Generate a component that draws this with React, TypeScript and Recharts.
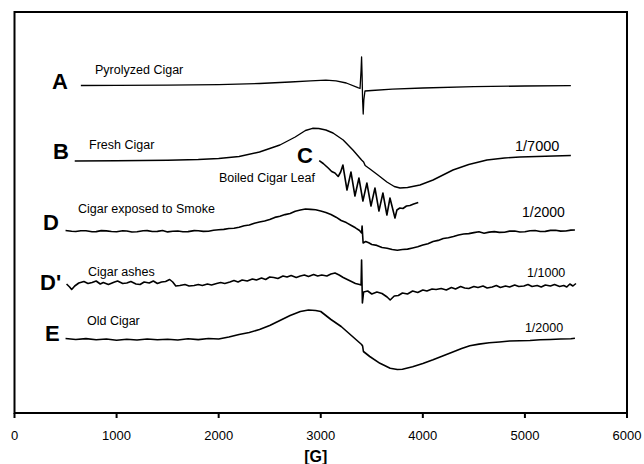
import React from "react";
import { LineChart, Line, XAxis, YAxis, ReferenceDot, ReferenceArea } from "recharts";

const FONT = "'Liberation Sans', Arial, Helvetica, sans-serif";

const xTicks = [0, 1000, 2000, 3000, 4000, 5000, 6000];

// Each trace: [field in G, vertical position of the (offset) signal]
const traceA: [number, number][] = [
  [650, 327.5], [1000, 327.6], [1500, 327.9], [2000, 328.4], [2400, 329.5], [2700, 331],
  [2900, 332.2], [3050, 332.8], [3150, 332.2], [3250, 330], [3364, 325.3], [3385, 324.5],
  [3395, 343], [3400, 356], [3405, 338], [3410, 313], [3416, 299], [3422, 313], [3433, 322],
  [3500, 322.5], [3700, 323.8], [4000, 325], [4500, 326.3], [5000, 327], [5450, 327.3],
];

const traceB: [number, number][] = [
  [590, 252], [1000, 252.2], [1500, 252.7], [1800, 253.5], [2000, 254.5], [2200, 256.5],
  [2400, 261], [2600, 268], [2750, 276], [2850, 282.5], [2920, 284.7], [2980, 284.5],
  [3050, 283], [3120, 280], [3220, 273], [3315, 263], [3400, 253], [3420, 251], [3435, 247.5],
  [3482, 244], [3560, 238], [3648, 231], [3720, 226.5], [3776, 225], [3850, 225.5],
  [3972, 228], [4100, 233], [4295, 243], [4450, 248.5], [4628, 253], [4800, 255],
  [4951, 256], [5200, 256.8], [5450, 257.5],
];

const traceC: [number, number][] = [
  [2985, 252.3], [3024, 249.5], [3073, 245], [3107, 241.5], [3139, 240], [3171, 236.5],
  [3195, 241], [3217, 248], [3257, 223], [3296, 241], [3335, 217], [3374, 235], [3413, 212],
  [3452, 230], [3492, 207], [3531, 225], [3570, 202], [3609, 220], [3648, 198], [3678, 215],
  [3727, 195], [3746, 203], [3775, 205], [3805, 204.5], [3840, 207], [3874, 207.5],
  [3910, 209], [3955, 210.5],
];

const traceD: [number, number][] = [
  [500, 182.5], [560, 181.8], [600, 181.5], [650, 182.3], [700, 182.2], [760, 181.2],
  [800, 181.4], [850, 182.4], [900, 182.1], [950, 181.5], [1000, 181.2], [1060, 182.2],
  [1100, 182.0], [1150, 181.0], [1200, 181.3], [1260, 182.3], [1300, 182.4], [1350, 181.5],
  [1400, 181.6], [1450, 182.5], [1500, 181.1], [1550, 181.7], [1600, 182.0], [1650, 181.2],
  [1700, 181.4], [1760, 182.4], [1800, 182.2], [1850, 181.6], [1900, 181.8], [1950, 182.8],
  [2000, 183.2], [2050, 183.6], [2100, 184.5], [2150, 184.8], [2200, 185.7], [2250, 187.2],
  [2300, 188.0], [2350, 189.8], [2400, 191.0], [2450, 192.0], [2500, 193.5], [2550, 195.6],
  [2600, 196.7], [2650, 198.4], [2700, 199.5], [2750, 201.8], [2800, 203.0], [2850, 204.0],
  [2900, 203.6], [2950, 203.2], [3000, 202.0], [3050, 200.6], [3100, 198.5], [3150, 195.8],
  [3200, 192.5], [3250, 190.4], [3300, 187.5], [3340, 185.2], [3380, 182.5], [3400, 180],
  [3405, 187], [3415, 170], [3440, 171.5], [3470, 170.2], [3500, 168.5], [3550, 167.6],
  [3600, 165.5], [3650, 164.8], [3700, 163.5], [3750, 162.8], [3800, 163.5], [3850, 163.9],
  [3900, 165.0], [3950, 166.2], [4000, 168.0], [4050, 169.3], [4100, 171.5], [4150, 172.6],
  [4200, 174.5], [4250, 175.2], [4300, 176.5], [4350, 178.0], [4400, 179.0], [4450, 179.4],
  [4500, 180.4], [4550, 181.2], [4600, 179.8], [4650, 180.9], [4700, 181.4], [4750, 180.6],
  [4800, 180.8], [4850, 181.9], [4900, 182.0], [4950, 181.0], [5000, 181.2], [5050, 182.2],
  [5100, 182.5], [5150, 181.5], [5200, 181.6], [5250, 182.6], [5300, 182.8], [5350, 181.9],
  [5400, 182.0], [5450, 182.9], [5490, 183.0],
];

const traceDPrime: [number, number][] = [
  [510, 129], [540, 126], [560, 123.5], [590, 127], [630, 130], [680, 131.5], [720, 129.5],
  [760, 130.5], [800, 132], [840, 129], [870, 130.5], [920, 128.5], [980, 131], [1010, 132],
  [1060, 129.5], [1100, 130], [1140, 131.5], [1190, 129], [1230, 128.5], [1270, 131],
  [1320, 130], [1360, 132], [1400, 129.5], [1440, 131], [1480, 131.5], [1520, 133.5],
  [1550, 131], [1580, 127], [1620, 127.5], [1670, 128.5], [1710, 127], [1760, 127.5],
  [1800, 128.5], [1840, 127.5], [1890, 129], [1930, 128], [1980, 129.5], [2020, 130.5],
  [2060, 129.5], [2110, 131], [2150, 132.5], [2190, 131], [2230, 133], [2280, 132],
  [2330, 134], [2370, 133], [2420, 135], [2460, 133.5], [2500, 136], [2540, 135.5],
  [2580, 134.5], [2630, 137], [2670, 136], [2710, 137.5], [2760, 135.5], [2800, 137],
  [2840, 138], [2880, 136.5], [2930, 138.5], [2970, 137], [3010, 138], [3060, 137],
  [3100, 139], [3140, 140], [3180, 138], [3220, 135.5], [3260, 133.5], [3300, 131.5],
  [3340, 129.5], [3380, 128.5], [3395, 128], [3400, 153], [3408, 110], [3420, 121],
  [3460, 122], [3500, 119], [3550, 121], [3600, 119.5], [3650, 116], [3680, 113],
  [3720, 117], [3760, 117.5], [3800, 120], [3850, 119], [3900, 122], [3950, 120.5],
  [4000, 123], [4040, 122], [4090, 124], [4130, 123.5], [4180, 124.5], [4230, 123],
  [4280, 125.5], [4320, 124], [4370, 126.5], [4410, 125], [4450, 124.5], [4500, 126.5],
  [4540, 125.5], [4590, 127], [4630, 125], [4680, 126], [4720, 127.5], [4760, 125.5],
  [4810, 127], [4850, 126], [4900, 128], [4940, 126.5], [4990, 127], [5030, 128.5],
  [5070, 126.5], [5120, 127.5], [5160, 126], [5200, 128], [5250, 127], [5290, 128.5],
  [5340, 126.5], [5380, 127.5], [5410, 126], [5440, 129], [5470, 127], [5500, 129.5],
];

const traceE: [number, number][] = [
  [500, 74.5], [600, 73.5], [700, 74.4], [800, 73.2], [900, 74.0], [1000, 72.8],
  [1100, 73.7], [1200, 73.0], [1300, 74.0], [1400, 73.2], [1500, 73.8], [1600, 73.0],
  [1700, 74.2], [1800, 73.4], [1900, 74.5], [2000, 74.0], [2100, 76.0], [2200, 78.5],
  [2300, 80.5], [2400, 83.5], [2500, 87.5], [2600, 92.5], [2700, 97.5], [2800, 101.5],
  [2880, 103.0], [2950, 102.5], [3000, 101.5], [3100, 93.5], [3200, 86.5], [3300, 77.5],
  [3400, 68.5], [3410, 67], [3418, 61.5], [3480, 56.5], [3580, 49.7], [3680, 44.7],
  [3750, 43.5], [3800, 43.8], [3900, 46.3], [4000, 49.5], [4100, 53.2], [4200, 57.3],
  [4300, 61.3], [4380, 64.6], [4460, 67.3], [4550, 68.9], [4650, 70.2], [4750, 71.0],
  [4850, 72.0], [4950, 72.2], [5050, 72.5], [5150, 73.2], [5250, 73.5], [5350, 74.0],
  [5450, 74.2], [5490, 74.7],
];

const traces = [
  { key: "A", pairs: traceA, width: 1.3 },
  { key: "B", pairs: traceB, width: 1.4 },
  { key: "C", pairs: traceC, width: 1.6 },
  { key: "D", pairs: traceD, width: 1.6 },
  { key: "Dp", pairs: traceDPrime, width: 1.6 },
  { key: "E", pairs: traceE, width: 1.6 },
];

// Annotations: [text, field (G), vertical position]
const letterNotes: [string, number, number][] = [
  ["A", 367, 324], ["B", 377, 254], ["C", 2767, 250],
  ["D", 279, 183], ["D'", 250, 123], ["E", 299, 72],
];
const nameNotes: [string, number, number][] = [
  ["Pyrolyzed Cigar", 789, 339], ["Fresh Cigar", 730, 264],
  ["Boiled Cigar Leaf", 2003, 231.5], ["Cigar exposed to Smoke", 622, 200],
  ["Cigar ashes", 720, 137], ["Old Cigar", 710, 88],
];
const dilutionNotes: [string, number, number, number][] = [
  ["1/7000", 4903, 262, 14.5], ["1/2000", 4972, 196, 14],
  ["1/1000", 5021, 136.5, 12.5], ["1/2000", 5000, 81.5, 12.5],
];

const toRows = (pairs: [number, number][]) => pairs.map(([g, s]) => ({ g, s }));

export default function App() {
  return (
    <div style={{ width: 644, height: 464, background: "#fff", overflow: "hidden" }}>
      <style>{"html,body{margin:0;padding:0;overflow:hidden;background:#fff;}"}</style>
      <LineChart
        width={644}
        height={464}
        margin={{ top: 12, right: 17, left: 14.5, bottom: 21 }}
      >
        <XAxis
          xAxisId="bottom"
          dataKey="g"
          type="number"
          domain={[0, 6000]}
          ticks={xTicks}
          allowDataOverflow
          height={30}
          tickSize={5}
          tickMargin={13}
          axisLine={{ stroke: "#000", strokeWidth: 2 }}
          tickLine={{ stroke: "#000", strokeWidth: 2 }}
          tick={{ fill: "#000", fontSize: 13, fontFamily: FONT }}
          label={{
            content: (p: any) => {
              const vb = p.viewBox || {};
              return (
                <text
                  x={vb.x + vb.width / 2 - 5}
                  y={462}
                  textAnchor="middle"
                  fontFamily={FONT}
                  fontWeight={700}
                  fontSize={16}
                  fill="#000"
                >
                  [G]
                </text>
              );
            },
          }}
        />
        <YAxis
          yAxisId="left"
          type="number"
          domain={[0, 401]}
          allowDataOverflow
          hide
        />
        <ReferenceArea
          xAxisId="bottom"
          yAxisId="left"
          x1={0}
          x2={6000}
          y1={0}
          y2={401}
          fill="none"
          fillOpacity={0}
          stroke="#000"
          strokeWidth={2}
          ifOverflow="visible"
        />
        {traces.map((t) => (
          <Line
            key={t.key}
            xAxisId="bottom"
            yAxisId="left"
            data={toRows(t.pairs)}
            dataKey="s"
            type="linear"
            stroke="#000"
            strokeWidth={t.width}
            dot={false}
            activeDot={false}
            isAnimationActive={false}
            strokeLinejoin="round"
          />
        ))}
        {letterNotes.map(([text, g, v], i) => (
          <ReferenceDot
            key={"l" + i}
            xAxisId="bottom"
            yAxisId="left"
            x={g}
            y={v}
            r={0}
            shape={(p: any) => (
              <text x={p.cx} y={p.cy} fontFamily={FONT} fontWeight={700} fontSize={22} fill="#000">
                {text}
              </text>
            )}
          />
        ))}
        {nameNotes.map(([text, g, v], i) => (
          <ReferenceDot
            key={"n" + i}
            xAxisId="bottom"
            yAxisId="left"
            x={g}
            y={v}
            r={0}
            shape={(p: any) => (
              <text x={p.cx} y={p.cy} fontFamily={FONT} fontSize={12.5} fill="#000">
                {text}
              </text>
            )}
          />
        ))}
        {dilutionNotes.map(([text, g, v, size], i) => (
          <ReferenceDot
            key={"d" + i}
            xAxisId="bottom"
            yAxisId="left"
            x={g}
            y={v}
            r={0}
            shape={(p: any) => (
              <text x={p.cx} y={p.cy} fontFamily={FONT} fontSize={size} fill="#000">
                {text}
              </text>
            )}
          />
        ))}
      </LineChart>
    </div>
  );
}
